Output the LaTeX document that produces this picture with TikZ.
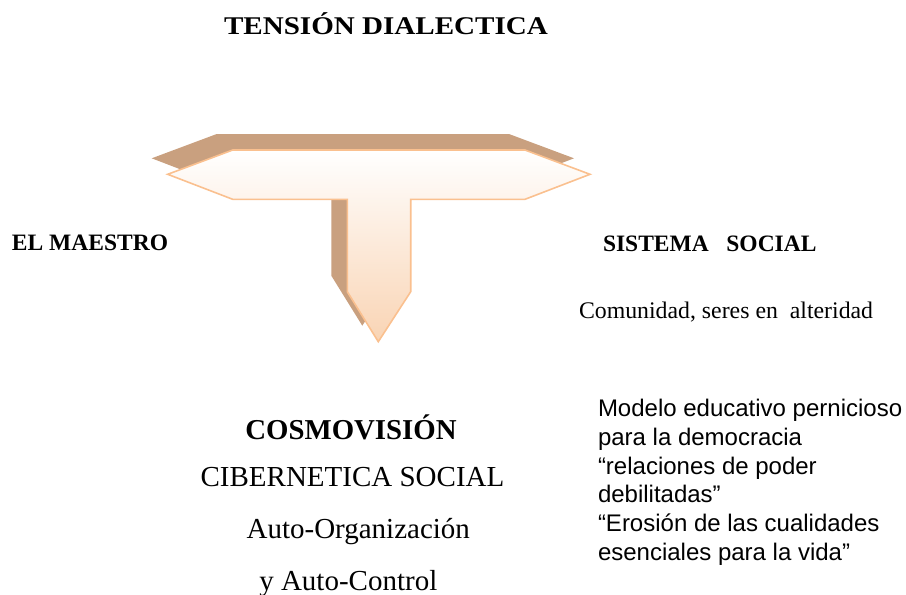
\documentclass[tikz,border=0pt]{standalone}
\usepackage{fontspec}
\setmainfont{Liberation Serif}
\newfontfamily\arialfont{Liberation Sans}
\newfontfamily\widefont[FakeStretch=1.14]{Liberation Serif}
\definecolor{shadowtan}{RGB}{201,160,127}
\definecolor{edgeorange}{RGB}{250,192,143}
\definecolor{peach}{RGB}{249,212,180}
\begin{document}
\begin{tikzpicture}[x=1pt,y=-1pt,
  lbl/.style={inner sep=0pt,outer sep=0pt,text=black},
  titlebold/.style={lbl,font=\widefont\fontsize{25.5}{30}\selectfont\bfseries},
  bigbold/.style={lbl,font=\fontsize{28.8}{33}\selectfont\bfseries},
  midbold/.style={lbl,font=\fontsize{23.5}{28}\selectfont\bfseries},
  midreg/.style={lbl,font=\fontsize{23.8}{28}\selectfont},
  bigreg/.style={lbl,font=\fontsize{29}{34}\selectfont},
  sansline/.style={lbl,anchor=base west,font=\arialfont\fontsize{24}{28.7}\selectfont}]
\useasboundingbox (0,0) rectangle (906,595);
% shadow
\fill[shadowtan] (151.7,158.3) -- (216.7,134) -- (509,134) -- (574,158.3) -- (509,183.3)
  -- (394.7,183.3) -- (394.7,275.7) -- (362.3,325.7) -- (331.3,275.7) -- (331.3,183.3)
  -- (216.7,183.3) -- cycle;
% main T arrow
\shade[top color=white,bottom color=peach,draw=edgeorange,line width=1.6pt,line join=miter]
  (167.7,174.3) -- (232.7,150) -- (525,150) -- (590,174.3) -- (525,199.3)
  -- (410.7,199.3) -- (410.7,291.7) -- (378.3,341.7) -- (347.3,291.7) -- (347.3,199.3)
  -- (232.7,199.3) -- cycle;
% texts
\node[titlebold,anchor=base] (title) at (386,34) {TENSIÓN DIALECTICA};
\node[midbold,anchor=base west] (maestro) at (12,250) {EL MAESTRO};
\node[midbold,anchor=base west] (sistema) at (603,251.7) {SISTEMA\ \ \ SOCIAL};
\node[midreg,anchor=base west] (comunidad) at (579,318.5) {Comunidad, seres en\ \ alteridad};
\node[bigbold,anchor=base] (cosmo) at (351,439.3) {COSMOVISIÓN};
\node[bigreg,anchor=base] (ciber) at (352.5,486.7) {CIBERNETICA SOCIAL};
\node[bigreg,anchor=base] (autoorg) at (358.3,538) {Auto-Organización};
\node[bigreg,anchor=base] (autocon) at (348.3,590) {y Auto-Control};
\node[sansline] (r1) at (598,416.7) {Modelo educativo pernicioso};
\node[sansline] (r2) at (598,445.4) {para la democracia};
\node[sansline] (r3) at (598,474.1) {“relaciones de poder};
\node[sansline] (r4) at (598,502.8) {debilitadas”};
\node[sansline] (r5) at (598,531.5) {“Erosión de las cualidades};
\node[sansline] (r6) at (598,560.2) {esenciales para la vida”};
\end{tikzpicture}
\end{document}
